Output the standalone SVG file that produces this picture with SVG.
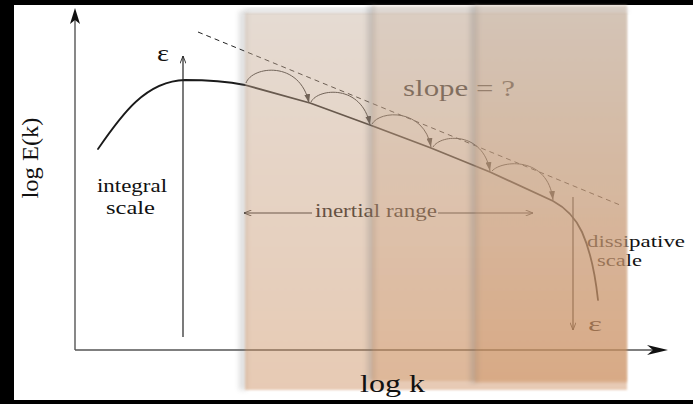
<svg xmlns="http://www.w3.org/2000/svg" width="693" height="404" viewBox="0 0 693 404">
<style>
text { font-family: "Liberation Serif", "DejaVu Serif", serif; fill: #111; }
.ax { stroke: #555; stroke-width: 1.4; fill: none; }
.curve { stroke: #1a1a1a; stroke-width: 1.8; fill: none; stroke-linejoin: round; stroke-linecap: round; }
.hop { stroke: #2a2a2a; stroke-width: 1; fill: none; }
.dash { stroke: #222; stroke-width: 1; fill: none; stroke-dasharray: 5 4; }
.thin { stroke: #222; stroke-width: 1.2; fill: none; }
.band { fill: url(#g); filter: url(#soft); }
.shade { fill: #707070; filter: url(#blur3); }
</style>
<defs>
  <linearGradient id="g" gradientUnits="userSpaceOnUse" x1="0" y1="5" x2="0" y2="390">
    <stop offset="0" stop-color="#c6b19f"/>
    <stop offset="1" stop-color="#cc8c5a"/>
  </linearGradient>
  <filter id="soft" x="-5%" y="-5%" width="110%" height="110%"><feGaussianBlur stdDeviation="1.2"/></filter>
  <filter id="blur3" x="-100%" y="-5%" width="300%" height="110%"><feGaussianBlur stdDeviation="2.5"/></filter>
  <marker id="hop" viewBox="0 0 12 8" refX="12" refY="4" markerWidth="9" markerHeight="6" markerUnits="userSpaceOnUse" orient="auto">
    <path d="M0,0 L12,4 L0,8 z" fill="#2a2a2a"/>
  </marker>
  <marker id="open" viewBox="0 0 10 8" refX="10" refY="4" markerWidth="8" markerHeight="6" markerUnits="userSpaceOnUse" orient="auto">
    <path d="M0,0 L10,4 L0,8" fill="none" stroke="#222" stroke-width="1.2"/>
  </marker>
</defs>

<rect x="0" y="0" width="693" height="404" fill="#000"/>
<rect x="14" y="5" width="679" height="395" fill="#fff"/>

<g id="axes">
  <line class="ax" x1="75" y1="350" x2="75" y2="18"/>
  <path d="M75,8 L70,24 L75,20 L80,24 z" fill="#111"/>
  <line class="ax" x1="75" y1="350" x2="655" y2="350"/>
  <path d="M668,350 L647,345 L653,350 L647,355 z" fill="#111"/>
  <text x="38" y="158" font-size="24" text-anchor="middle" textLength="81" lengthAdjust="spacingAndGlyphs" transform="rotate(-90 38 158)">log E(k)</text>
</g>

<g id="spectrum">
  <path class="curve" d="M98,149 C122,114 146,81 185,80 C210,80 230,82 245,85 L310,103 L370,125 L431,148 L490,172 L553,201 C566,208 576,219 582,232 C590,250 595,272 598,300"/>
</g>

<g id="connectors">
  <path class="dash" d="M198,32 L620,205"/>
  <path class="hop" d="M246,83 C252,66 300,60 309,103" marker-end="url(#hop)"/>
  <path class="hop" d="M311,102 C318,88 362,84 370,125" marker-end="url(#hop)"/>
  <path class="hop" d="M372,124 C380,110 424,108 431,147" marker-end="url(#hop)"/>
  <path class="hop" d="M433,147 C441,134 483,131 490,171" marker-end="url(#hop)"/>
  <path class="hop" d="M492,171 C502,160 548,156 553,200" marker-end="url(#hop)"/>
  <line class="thin" x1="183" y1="337" x2="183" y2="56" marker-end="url(#open)"/>
  <line class="thin" x1="573" y1="197" x2="573" y2="330" marker-end="url(#open)"/>
  <line class="thin" x1="312" y1="213" x2="244" y2="213" marker-end="url(#open)"/>
  <line class="thin" x1="438" y1="213" x2="533" y2="213" marker-end="url(#open)"/>
</g>

<g id="labels">
  <text x="157" y="61" font-size="24" textLength="12" lengthAdjust="spacingAndGlyphs">ε</text>
  <text x="588" y="331" font-size="22" textLength="14" lengthAdjust="spacingAndGlyphs">ε</text>
  <text x="97" y="192" font-size="19" textLength="70" lengthAdjust="spacingAndGlyphs">integral</text>
  <text x="106" y="214" font-size="19" textLength="49" lengthAdjust="spacingAndGlyphs">scale</text>
  <text x="315" y="217" font-size="18" textLength="122" lengthAdjust="spacingAndGlyphs">inertial range</text>
  <text x="403" y="96" font-size="23" textLength="112" lengthAdjust="spacingAndGlyphs">slope = ?</text>
  <text x="587" y="247" font-size="16" textLength="98" lengthAdjust="spacingAndGlyphs">dissipative</text>
  <text x="597" y="266" font-size="16" textLength="45" lengthAdjust="spacingAndGlyphs">scale</text>
</g>

<g id="bands">
  <rect class="shade" x="239" y="11" width="8" height="379" opacity="0.22"/>
  <rect class="shade" x="245" y="8" width="382" height="6" opacity="0.2"/>
  <rect class="band" x="245" y="13" width="382" height="377" opacity="0.45"/>
  <rect class="shade" x="367" y="5" width="8" height="376" opacity="0.25"/>
  <rect class="band" x="372" y="5" width="255" height="376" opacity="0.3"/>
  <rect class="shade" x="470" y="5" width="8" height="378" opacity="0.25"/>
  <rect class="band" x="475" y="5" width="152" height="378" opacity="0.3"/>
</g>

<g id="xlabel">
  <text x="360" y="392" font-size="25" textLength="65" lengthAdjust="spacingAndGlyphs">log k</text>
</g>
</svg>
